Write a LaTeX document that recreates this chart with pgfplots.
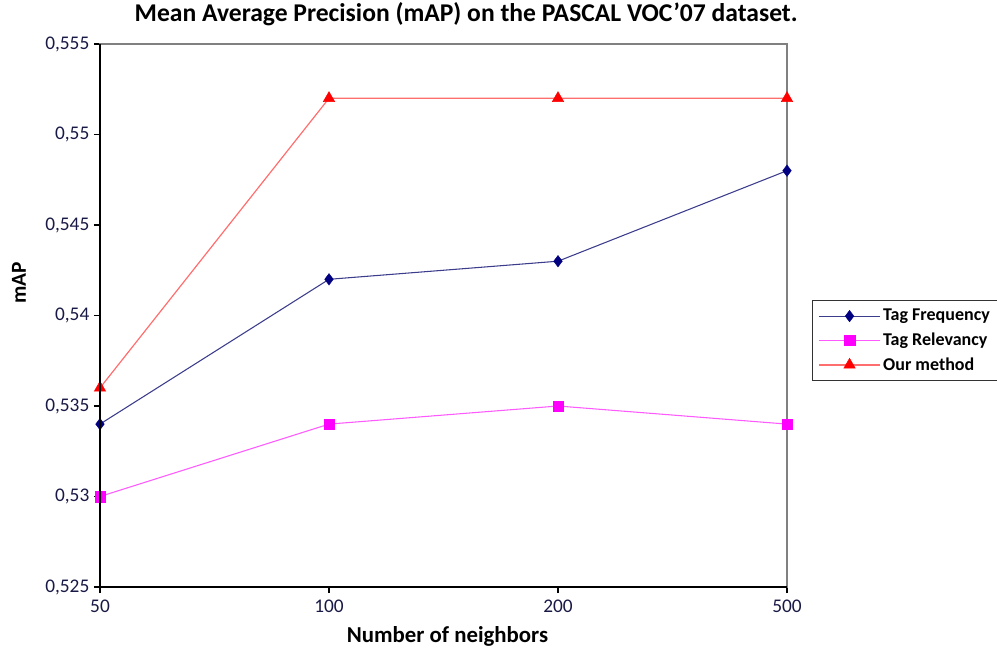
\documentclass[border=0pt]{standalone}
\usepackage{pgfplots}
\pgfplotsset{compat=1.18}
\usepackage{fontspec}
\setmainfont{Carlito}
\definecolor{navyc}{RGB}{0,0,128}
\definecolor{navyl}{RGB}{60,60,140}
\definecolor{magc}{RGB}{255,0,255}
\definecolor{magl}{RGB}{255,90,255}
\definecolor{redc}{RGB}{255,0,0}
\definecolor{redl}{RGB}{255,110,110}
\definecolor{axgray}{RGB}{128,128,128}
\definecolor{tickc}{RGB}{25,25,70}
\begin{document}
\begin{tikzpicture}[x=0.75pt,y=0.75pt]
\begin{axis}[
  scale only axis, width=515.25pt, height=407.25pt,
  xmin=0, xmax=3, ymin=0.525, ymax=0.555,
  xtick={0,1,2,3}, xticklabels={50,100,200,500},
  ytick={0.525,0.53,0.535,0.54,0.545,0.55,0.555},
  yticklabel style={/pgf/number format/.cd, use comma, fixed, precision=3},
  /pgf/number format/assume math mode=true,
  tick label style={font=\fontsize{14.5}{14.5}\selectfont, color=tickc},
  xticklabel style={yshift=-2pt},
  xtick pos=left, ytick pos=left, tick align=outside,
  major tick length=4.5pt,
  tick style={black, line width=0.8pt},
  axis line style={draw=axgray, line width=1.1pt},
  xlabel={\textbf{Number of neighbors}},
  xlabel style={font=\fontsize{17.1}{17.1}\selectfont, yshift=-3pt, xshift=3pt},
  ylabel={\textbf{mAP}},
  ylabel style={font=\fontsize{16}{16}\selectfont, at={(rel axis cs:0,0.56)}, anchor=south, yshift=52pt},
  title={\textbf{Mean Average Precision (mAP) on the PASCAL VOC’07 dataset.}},
  title style={font=\fontsize{19.2}{19.2}\selectfont, at={(rel axis cs:0.533,1)}, anchor=south, yshift=4pt},
  legend style={at={(rel axis cs:1.0364,0.5285)}, anchor=north west,
    draw=black!80, line width=0.9pt, font=\fontsize{13.5}{15}\selectfont\bfseries,
    row sep=3.5pt, inner xsep=4.5pt, inner ysep=4.5pt},
  legend cell align=left,
  legend image code/.code={
    \draw[mark repeat=2,mark phase=2] plot coordinates {(0cm,0cm) (0.8cm,0cm) (1.6cm,0cm)};},
  after end axis/.code={
    \draw[black, line width=1.1pt] (rel axis cs:0,1) -- (rel axis cs:0,0) -- (rel axis cs:1,0);
    \coordinate (BL) at (rel axis cs:0,0);
  },
]
\addplot[navyl, line width=0.8pt, mark=diamond*, mark size=4.3pt, mark options={navyc, fill=navyc, line width=0.3pt}]
  coordinates {(0,0.534) (1,0.542) (2,0.543) (3,0.548)};
\addlegendentry{Tag Frequency}
\addplot[magl, line width=0.8pt, mark=square*, mark size=3.9pt, mark options={magc, fill=magc, line width=0.3pt}]
  coordinates {(0,0.530) (1,0.534) (2,0.535) (3,0.534)};
\addlegendentry{Tag Relevancy}
\addplot[redl, line width=0.9pt, mark=triangle*, mark size=5pt, mark options={redc, fill=redc, line width=0.3pt}]
  coordinates {(0,0.536) (1,0.552) (2,0.552) (3,0.552)};
\addlegendentry{Our method}
\end{axis}
\pgfresetboundingbox
\path[use as bounding box] ([shift={(-100,-60)}]BL) rectangle ([shift={(897,587)}]BL);
\end{tikzpicture}
\end{document}
